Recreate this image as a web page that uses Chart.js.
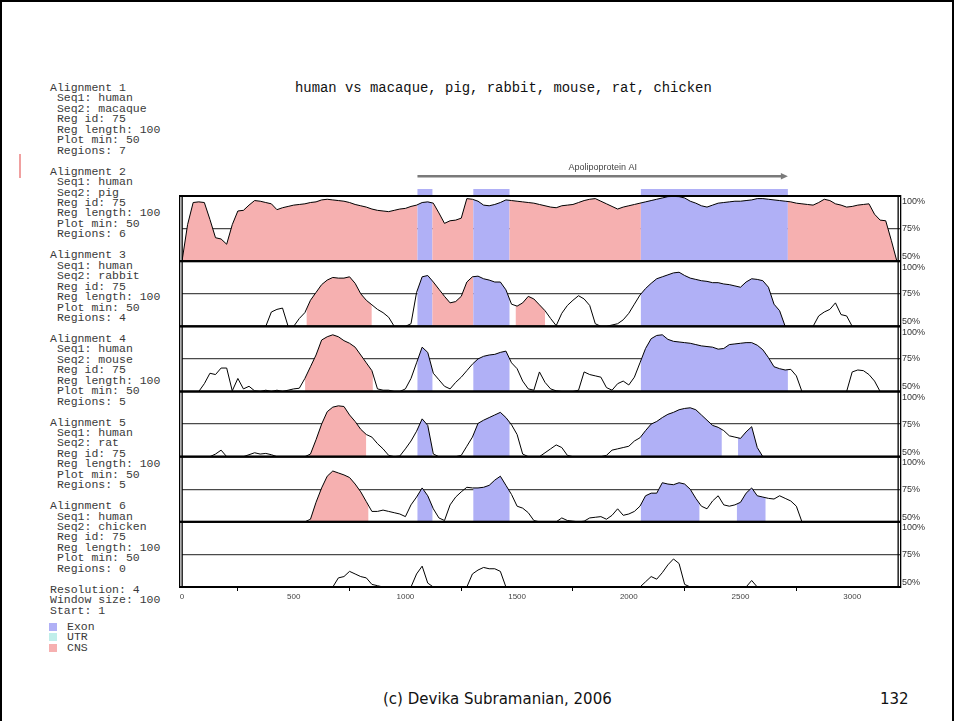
<!DOCTYPE html>
<html>
<head>
<meta charset="utf-8">
<title>VISTA plot - Apolipoprotein AI</title>
<script src="https://cdn.jsdelivr.net/npm/chart.js@4"></script>
<style>
    body { margin: 0; background: #fff; }
    #slide { position: relative; width: 954px; height: 721px; overflow: hidden; background: #fff; }
    #frame { position: absolute; left: 0; top: 0; width: 950px; height: 760px; border: 2px solid #000; }
    #mark { position: absolute; left: 19px; top: 154px; width: 2px; height: 24px; background: #f0a0a0; }
    #info { position: absolute; left: 50px; top: 83px; margin: 0; font: 11.5px/10.45px "Liberation Mono", monospace; color: #3a3a3a; }
    #title { position: absolute; left: 295px; top: 80px; font: 13.9px/16px "Liberation Mono", monospace; color: #111; white-space: pre; }
    .key { position: absolute; left: 49px; font: 11.5px/10.45px "Liberation Mono", monospace; color: #3a3a3a; }
    .key span { display: inline-block; width: 8px; height: 8px; margin-right: 10px; vertical-align: -1px; }
    #footer { position: absolute; left: 383px; top: 689px; font: 15px/20px "DejaVu Sans", sans-serif; color: #111; }
    #page { position: absolute; left: 880px; top: 689px; font: 15px/20px "DejaVu Sans", sans-serif; color: #111; }
    canvas { position: absolute; left: 0; top: 0; }
</style>
</head>
<body>
<div id="slide">
    <div id="frame"></div>
    <div id="mark"></div>
<pre id="info">Alignment 1
 Seq1: human
 Seq2: macaque
 Reg id: 75
 Reg length: 100
 Plot min: 50
 Regions: 7

Alignment 2
 Seq1: human
 Seq2: pig
 Reg id: 75
 Reg length: 100
 Plot min: 50
 Regions: 6

Alignment 3
 Seq1: human
 Seq2: rabbit
 Reg id: 75
 Reg length: 100
 Plot min: 50
 Regions: 4

Alignment 4
 Seq1: human
 Seq2: mouse
 Reg id: 75
 Reg length: 100
 Plot min: 50
 Regions: 5

Alignment 5
 Seq1: human
 Seq2: rat
 Reg id: 75
 Reg length: 100
 Plot min: 50
 Regions: 5

Alignment 6
 Seq1: human
 Seq2: chicken
 Reg id: 75
 Reg length: 100
 Plot min: 50
 Regions: 0

Resolution: 4
Window size: 100
Start: 1</pre>
    <div class="key" style="top:622px"><span style="background:#b0b0f6"></span>Exon</div>
    <div class="key" style="top:632px"><span style="background:#c0eeea"></span>UTR</div>
    <div class="key" style="top:643px"><span style="background:#f6b0b0"></span>CNS</div>
    <div id="title">human vs macaque, pig, rabbit, mouse, rat, chicken</div>
    <div id="footer">(c) Devika Subramanian, 2006</div>
    <div id="page">132</div>
    <canvas id="vista" width="954" height="721"></canvas>
</div>

<script>
    // positions along the human sequence (bp)
    const positions = [
        0, 25, 50, 75, 100, 125, 150, 175,
        200, 225, 250, 275, 300, 325, 350, 375,
        400, 425, 450, 475, 500, 525, 550, 575,
        600, 625, 650, 675, 700, 725, 750, 775,
        800, 825, 850, 875, 900, 925, 950, 975,
        1000, 1025, 1050, 1075, 1100, 1125, 1150, 1175,
        1200, 1225, 1250, 1275, 1300, 1325, 1350, 1375,
        1400, 1425, 1450, 1475, 1500, 1525, 1550, 1575,
        1600, 1625, 1650, 1675, 1700, 1725, 1750, 1775,
        1800, 1825, 1850, 1875, 1900, 1925, 1950, 1975,
        2000, 2025, 2050, 2075, 2100, 2125, 2150, 2175,
        2200, 2225, 2250, 2275, 2300, 2325, 2350, 2375,
        2400, 2425, 2450, 2475, 2500, 2525, 2550, 2575,
        2600, 2625, 2650, 2675, 2700, 2725, 2750, 2775,
        2800, 2825, 2850, 2875, 2900, 2925, 2950, 2975,
        3000, 3025, 3050, 3075, 3100, 3125, 3150, 3175,
        3200
    ];

    // % identity, 50 = at or below plot min
    const macaque = [
        50, 78, 95, 95.5, 95, 82, 68, 67,
        63, 78, 88.5, 89, 93, 96.5, 96, 95,
        94, 89.5, 91, 92, 93, 93.5, 94, 95,
        95.5, 97, 97.5, 97, 96.5, 96, 95, 93.5,
        92.5, 91.5, 90, 89, 88.5, 88, 89, 90,
        90.5, 92, 93, 95, 95.5, 94.5, 87, 79,
        81, 81.5, 83, 98, 97.5, 96, 93, 92.5,
        93.5, 95, 97, 96.5, 96, 95.5, 95, 94.5,
        93.5, 92.5, 91.5, 91, 92.5, 93, 93.5, 95,
        96.5, 97.5, 98, 96, 94, 92, 90, 91.5,
        92.5, 93.5, 94.5, 95.5, 96.5, 97.5, 98.5, 99.5,
        99.7, 99.5, 98.5, 96, 94.5, 92.5, 91.5, 93,
        94.5, 95, 95.5, 96, 96, 96.5, 97, 98,
        98, 97.5, 97, 96.5, 96, 95.5, 94.5, 94,
        93.5, 93, 95, 97.5, 96.5, 94, 93, 91.5,
        92, 93, 93.5, 94, 86, 81.5, 81, 66,
        50
    ];
    const pig = [
        50, 50, 50, 50, 50, 50, 50, 50,
        50, 50, 50, 50, 50, 50, 50, 50,
        61, 63, 64, 50, 50, 56, 60.5, 70,
        76, 82, 85.5, 87.5, 87, 87, 88, 83,
        75, 70, 66.5, 63, 60.5, 57, 50, 50,
        50, 52, 76, 88, 89, 84, 78.5, 73,
        68, 69, 73, 84, 88, 88.5, 86.5, 85.5,
        84, 84, 78, 67, 65.5, 68, 73, 71,
        66.5, 62, 56, 50.5, 60, 66, 70, 73.5,
        71, 66, 52, 50, 50, 51, 52, 55,
        60, 67, 74, 79, 83, 86.5, 88, 89.5,
        91, 91.5, 89, 87, 86, 85, 84.5, 83.5,
        83.5, 82.5, 82, 81, 80, 84, 86.5, 86,
        85, 80, 67, 62, 50, 50, 50, 50,
        50, 50, 58, 61, 63, 68, 59, 58,
        50, 50, 50, 50, 50, 50, 50, 50,
        50
    ];
    const rabbit = [
        50, 50, 50, 50, 56, 64, 63, 68,
        68, 50.5, 60, 52, 54, 50.5, 50, 51,
        50, 51, 50, 51, 52, 52.5, 60, 69,
        78, 89.5, 92, 93.5, 92, 89, 87, 84,
        78, 72, 66, 52, 51, 51, 50, 50,
        52, 60, 72, 84, 80, 64, 59, 54,
        52, 57, 61, 66, 71, 75, 77, 78,
        78.5, 80, 81, 72, 67.5, 58, 52, 51,
        65, 57, 52, 50.5, 50, 50, 50, 51,
        65, 63, 62, 61, 53, 51, 56, 58,
        55, 61, 72, 83, 90.5, 93, 93.5, 90,
        88.5, 88, 87.5, 87, 86, 85, 84.5, 84,
        82.5, 83, 86, 86.5, 87, 87.5, 87.5, 85.5,
        82, 76, 69, 67.5, 66.5, 67, 62, 50,
        50, 50, 50, 50, 50, 50, 50, 50,
        65, 66.5, 66, 63, 58, 50, 50, 50,
        50
    ];
    const mouse = [
        50, 50, 50, 50, 50, 50, 52, 55,
        50, 50, 50, 50, 51.5, 53, 52, 52.5,
        51.5, 50, 50, 50, 50, 50, 50, 52,
        63, 75, 84.5, 88, 89, 88.5, 82, 77,
        71, 67, 65, 60, 56, 51, 50, 50.5,
        56, 62, 69.5, 79, 74, 52, 50, 50,
        50, 50, 51, 58, 65, 75.5, 78, 80,
        82, 84, 80, 74.5, 67, 52, 50, 50,
        50, 53, 56, 59, 57, 51, 50, 50,
        50, 50, 50, 50, 51, 55, 56, 57,
        58, 62, 64.5, 70, 75, 77, 80, 82.5,
        84, 86, 87, 87.5, 86, 82, 78, 74,
        72.5, 70, 66, 65, 64, 69, 73, 57,
        50, 50, 50, 50, 50, 50, 50, 50,
        50, 50, 50, 50, 50, 50, 50, 50,
        50, 50, 50, 50, 50, 50, 50, 50,
        50
    ];
    const rat = [
        50, 50, 50, 50, 50, 50, 50, 50,
        50, 50, 50, 50, 50, 50, 50, 50,
        50, 50, 50, 50, 50, 50, 50, 52,
        65, 76, 85, 89, 87.5, 86, 84, 79,
        73, 65.5, 58, 58, 59, 58, 57, 56,
        54, 63, 69, 76, 70, 60, 53, 51,
        63, 69, 73, 76.5, 76, 76, 76.5, 78,
        82, 85, 78, 71, 62, 60.5, 57, 51,
        50, 50, 50, 50, 53, 51, 50.5, 50,
        50.5, 53, 53.5, 54, 52, 55, 60, 55,
        56, 58, 62, 70, 72, 72, 80, 79,
        78.5, 80, 79, 75, 68, 62, 60, 66,
        70, 63, 62, 63, 65, 72, 76, 70,
        69, 68, 67.5, 70, 68, 66, 62, 50,
        50, 50, 50, 50, 50, 50, 50, 50,
        50, 50, 50, 50, 50, 50, 50, 50,
        50
    ];
    const chicken = [
        50, 50, 50, 50, 50, 50, 50, 50,
        50, 50, 50, 50, 50, 50, 50, 50,
        50, 50, 50, 50, 50, 50, 50, 50,
        50, 50, 50, 50, 57, 58, 62, 60,
        58, 57, 52, 51, 50, 50, 50, 50,
        50, 50, 60, 66, 53, 50, 50, 50,
        50, 50, 50, 50, 60, 63, 65, 64,
        64, 62, 50, 50, 50, 50, 50, 50,
        50, 50, 50, 50, 50, 50, 50, 50,
        50, 50, 50, 50, 50, 50, 50, 50,
        50, 50, 50, 54, 58, 56, 61, 67,
        71.5, 68, 52, 50, 50, 50, 50, 50,
        50, 50, 50, 50, 50, 50, 55, 50,
        50, 50, 50, 50, 50, 50, 50, 50,
        50, 50, 50, 50, 50, 50, 50, 50,
        50, 50, 50, 50, 50, 50, 50, 50,
        50
    ];

    // conserved regions [start, end, kind]
    const macaqueRegions = [[0, 1054, 'CNS'], [1054, 1121, 'Exon'], [1121, 1304, 'CNS'], [1304, 1466, 'Exon'],
        [1466, 2054, 'CNS'], [2054, 2712, 'Exon'], [2712, 3205, 'CNS']];
    const pigRegions = [[558, 849, 'CNS'], [1054, 1121, 'Exon'], [1121, 1304, 'CNS'], [1304, 1466, 'Exon'],
        [1494, 1625, 'CNS'], [2054, 2712, 'Exon']];
    const rabbitRegions = [[551, 854, 'CNS'], [1054, 1121, 'Exon'], [1304, 1466, 'Exon'], [2054, 2712, 'Exon']];
    const mouseRegions = [[570, 824, 'CNS'], [1054, 1121, 'Exon'], [1304, 1466, 'Exon'], [2054, 2416, 'Exon'], [2489, 2600, 'Exon']];
    const ratRegions = [[573, 834, 'CNS'], [1054, 1121, 'Exon'], [1304, 1466, 'Exon'], [2054, 2316, 'Exon'], [2484, 2612, 'Exon']];
    const chickenRegions = [];

    const geneName = 'Apolipoprotein AI';
    const geneSpan = [1054, 2712];
    const geneExons = [[1054, 1121], [1304, 1466], [2054, 2712]];

    const xTickValues = [0, 250, 500, 750, 1000, 1250, 1500, 1750, 2000, 2250, 2500, 2750, 3000];
    const yTickValues = [53.5, 75, 95.5];
    const yTickLabels = ['50%', '75%', '100%'];

    const regionColors = { Exon: '#b0b0f6', UTR: '#c0eeea', CNS: '#f6b0b0' };

    const panels = [
        { values: macaque, regions: macaqueRegions },
        { values: pig, regions: pigRegions },
        { values: rabbit, regions: rabbitRegions },
        { values: mouse, regions: mouseRegions },
        { values: rat, regions: ratRegions },
        { values: chicken, regions: chickenRegions }
    ];

    const clear = 'rgba(0,0,0,0)';

    // fill the area under the curve inside each region, plus the gene track
    const vistaFill = {
        id: 'vistaFill',
        beforeDatasetsDraw(chart) {
            const ctx = chart.ctx;
            const xs = chart.scales.x;
            panels.forEach((p, i) => {
                const pts = chart.getDatasetMeta(i).data;
                const ys = chart.scales['y' + (i + 1)];
                p.regions.forEach(r => {
                    const x1 = xs.getPixelForValue(r[0]);
                    const x2 = xs.getPixelForValue(r[1]);
                    ctx.save();
                    ctx.beginPath();
                    ctx.rect(x1, ys.top, x2 - x1, ys.bottom - ys.top);
                    ctx.clip();
                    ctx.beginPath();
                    ctx.moveTo(pts[0].x, ys.bottom);
                    pts.forEach(pt => ctx.lineTo(pt.x, pt.y));
                    ctx.lineTo(pts[pts.length - 1].x, ys.bottom);
                    ctx.closePath();
                    ctx.fillStyle = regionColors[r[2]];
                    ctx.fill();
                    ctx.restore();
                });
            });

            // gene track above the first panel
            const top = chart.scales.y1.top;
            ctx.save();
            ctx.fillStyle = regionColors.Exon;
            geneExons.forEach(e => {
                const x1 = xs.getPixelForValue(e[0]);
                const x2 = xs.getPixelForValue(e[1]);
                ctx.fillRect(x1, top - 7, x2 - x1, 7);
            });
            const g1 = xs.getPixelForValue(geneSpan[0]);
            const g2 = xs.getPixelForValue(geneSpan[1]);
            ctx.fillStyle = '#7a7a7a';
            ctx.fillRect(g1, top - 21, g2 - g1 - 5, 2.5);
            ctx.beginPath();
            ctx.moveTo(g2, top - 19.8);
            ctx.lineTo(g2 - 7, top - 23);
            ctx.lineTo(g2 - 7, top - 16.5);
            ctx.closePath();
            ctx.fill();
            ctx.fillStyle = '#444';
            ctx.font = '9px "Liberation Sans", Arial, sans-serif';
            ctx.textAlign = 'center';
            ctx.textBaseline = 'middle';
            ctx.fillText(geneName, (g1 + g2) / 2, top - 28);
            ctx.restore();
        },
        afterDatasetsDraw(chart) {
            const ctx = chart.ctx;
            const area = chart.chartArea;
            ctx.save();
            ctx.fillStyle = '#000';
            panels.forEach((p, i) => {
                const ys = chart.scales['y' + (i + 1)];
                ctx.fillRect(area.left - 3, ys.top - 1, area.right - area.left + 6, 2);
                ctx.fillRect(area.left - 3, ys.bottom - 1, area.right - area.left + 6, 2);
            });
            const top = chart.scales.y1.top - 1;
            const h = chart.scales.y6.bottom - top + 1;
            ctx.fillRect(area.left - 3, top, 1.3, h);
            ctx.fillRect(area.left - 0.5, top, 1.3, h);
            ctx.fillRect(area.right - 0.5, top, 1.3, h);
            ctx.fillRect(area.right + 2, top, 1.3, h);
            ctx.restore();
        }
    };

    const scales = {
        x: {
            type: 'linear',
            position: 'bottom',
            min: 0,
            max: 3205,
            afterFit: s => { s.height = 20; },
            afterBuildTicks: s => { s.ticks = xTickValues.map(v => ({ value: v })); },
            ticks: {
                autoSkip: false,
                maxRotation: 0,
                padding: 1,
                color: '#444',
                font: { family: '"Liberation Sans", Arial, sans-serif', size: 8 },
                callback: v => (v % 500 === 0 ? String(v) : '')
            },
            grid: {
                drawOnChartArea: false,
                tickLength: 4,
                color: c => (c.tick && c.tick.value % 500 === 250 ? '#000' : clear)
            },
            border: { display: false }
        }
    };

    panels.forEach((p, i) => {
        scales['y' + (i + 1)] = {
            type: 'linear',
            position: 'right',
            stack: 'vista',
            stackWeight: 1,
            min: 50,
            max: 100,
            afterFit: s => { s.width = 30; },
            afterBuildTicks: s => { s.ticks = yTickValues.map(v => ({ value: v })); },
            ticks: {
                padding: 1,
                color: '#333',
                font: { family: '"Liberation Sans", Arial, sans-serif', size: 9 },
                callback: (v, idx) => yTickLabels[idx]
            },
            grid: {
                tickLength: 3,
                lineWidth: 1.3,
                color: c => (c.tick && c.tick.value === 75 ? '#4a4a4a' : clear)
            },
            border: { display: false }
        };
    });

    const chart = new Chart(document.getElementById('vista'), {
        type: 'line',
        data: {
            datasets: panels.map((p, i) => ({
                label: 'alignment ' + (i + 1),
                data: positions.map((x, k) => ({ x: x, y: p.values[k] })),
                yAxisID: 'y' + (i + 1),
                borderColor: '#000',
                borderWidth: 1,
                pointRadius: 0,
                fill: false,
                tension: 0
            }))
        },
        options: {
            responsive: false,
            animation: false,
            devicePixelRatio: 1,
            layout: { padding: { left: 182, top: 196, right: 26, bottom: 114 } },
            plugins: { legend: { display: false }, tooltip: { enabled: false } },
            scales: scales
        },
        plugins: [vistaFill]
    });
</script>
</body>
</html>
